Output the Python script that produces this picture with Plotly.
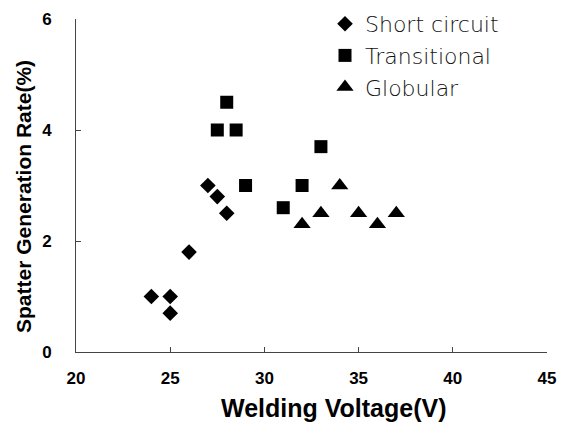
import plotly.graph_objects as go

# Data
sc_voltage = [24, 25, 25, 26, 27, 27.5, 28]
sc_rate = [1.0, 1.0, 0.7, 1.8, 3.0, 2.8, 2.5]

tr_voltage = [27.5, 28, 28.5, 29, 31, 32, 33]
tr_rate = [4.0, 4.5, 4.0, 3.0, 2.6, 3.0, 3.7]

gl_voltage = [32, 33, 34, 35, 36, 37]
gl_rate = [2.3, 2.5, 3.0, 2.5, 2.3, 2.5]

x_ticks = [20, 25, 30, 35, 40, 45]
y_ticks = [0, 2, 4, 6]

W, H = 563, 426
L, R, T, B = 76, 16, 19, 74
PW, PH = W - L - R, H - T - B

fig = go.Figure()
fig.add_trace(go.Scatter(x=sc_voltage, y=sc_rate, mode="markers", name="Short circuit",
                         marker=dict(symbol="diamond", size=12, color="black")))
fig.add_trace(go.Scatter(x=tr_voltage, y=tr_rate, mode="markers", name="Transitional",
                         marker=dict(symbol="square", size=13, color="black")))
fig.add_trace(go.Scatter(x=gl_voltage, y=gl_rate, mode="markers", name="Globular",
                         marker=dict(symbol="triangle-up", size=15, color="black")))

axis_col = "#444444"
tick_font = dict(family="Liberation Sans, Arial", size=17, color="black", weight="bold")

fig.update_layout(
    width=W, height=H,
    margin=dict(l=L, r=R, t=T, b=B, autoexpand=False),
    paper_bgcolor="white", plot_bgcolor="white",
    showlegend=True,
    legend=dict(x=(325 - L) / PW, y=(H - B - 3) / PH, xanchor="left", yanchor="top",
                font=dict(family="DejaVu Sans", size=22, color="#111111", weight=300),
                bgcolor="rgba(0,0,0,0)", borderwidth=0, tracegroupgap=2),
    xaxis=dict(range=[20, 45], tickvals=x_ticks, ticktext=[str(v) for v in x_ticks],
               automargin=False,
               showgrid=False, zeroline=False, showline=True, linecolor=axis_col, linewidth=1,
               ticks="inside", ticklen=5, tickcolor=axis_col, tickfont=tick_font,
               ticklabelstandoff=11),
    yaxis=dict(range=[0, 6], tickvals=y_ticks, ticktext=[str(v) for v in y_ticks],
               automargin=False,
               showgrid=False, zeroline=False, showline=True, linecolor=axis_col, linewidth=1,
               ticks="inside", ticklen=5, tickcolor=axis_col, tickfont=tick_font,
               ticklabelstandoff=20),
    annotations=[
        dict(text="Welding Voltage(V)", xref="paper", yref="paper",
             x=(333 - L) / PW, y=(H - B - 408) / PH,
             showarrow=False, xanchor="center", yanchor="middle",
             font=dict(family="Liberation Sans, Arial", size=25, color="black", weight="bold")),
        dict(text="Spatter Generation Rate(%)", xref="paper", yref="paper",
             x=(24 - L) / PW, y=(H - B - 197) / PH,
             textangle=-90, showarrow=False, xanchor="center", yanchor="middle",
             font=dict(family="Liberation Sans, Arial", size=21, color="black", weight="bold")),
    ],
)

fig.write_html("out.html")
